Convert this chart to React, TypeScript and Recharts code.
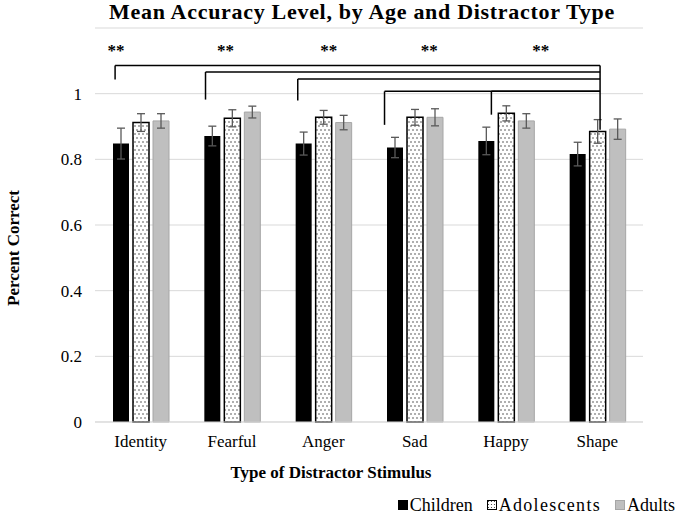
import React from 'react'
import {
  BarChart,
  Bar,
  XAxis,
  YAxis,
  CartesianGrid,
  ErrorBar,
  Legend,
  ReferenceLine,
  ReferenceDot,
} from 'recharts'

const categories = ['Identity', 'Fearful', 'Anger', 'Sad', 'Happy', 'Shape']
const children = [0.848, 0.871, 0.848, 0.836, 0.856, 0.816]
const childrenErr = [0.047, 0.03, 0.035, 0.031, 0.042, 0.036]
const adolescents = [0.912, 0.925, 0.928, 0.928, 0.94, 0.885]
const adolescentsErr = [0.027, 0.026, 0.021, 0.024, 0.023, 0.036]
const adults = [0.917, 0.944, 0.912, 0.928, 0.917, 0.892]
const adultsErr = [0.022, 0.018, 0.022, 0.026, 0.022, 0.031]
const yTicks = [0, 0.2, 0.4, 0.6, 0.8, 1]

// significance brackets (each emotion vs Shape), in category units (0..6)
const bracketStart = [0.22, 1.21, 2.22, 3.17, 4.34]
const bracketTop = [1.086, 1.066, 1.045, 1.007, 1.007]
const bracketLeg = [1.043, 0.982, 0.979, 0.905, 0.936]
const bracketEnd = 5.53
const bracketEndLeg = 0.89
const starX = [0.23, 1.43, 2.56, 3.66, 4.88]
const starY = 1.132

const data = categories.map((name, i) => ({
  name,
  Children: children[i],
  childrenErr: childrenErr[i],
  Adolescents: adolescents[i],
  adolescentsErr: adolescentsErr[i],
  Adults: adults[i],
  adultsErr: adultsErr[i],
}))

// the hidden x axis spans index 0..n-1 over the plot width, so rescale
// category units (0..n) onto it
const toAxis = (p: number) => (p * (categories.length - 1)) / categories.length

const FONT = '"Liberation Serif", "Times New Roman", serif'
const ERR = '#595959'

const LegendBox = () => {
  const items = [
    { name: 'Children', fill: '#000', stroke: '#000', spacing: 0 },
    { name: 'Adolescents', fill: 'url(#dotsLegend)', stroke: '#000', spacing: 1.3 },
    { name: 'Adults', fill: '#bfbfbf', stroke: '#a6a6a6', spacing: 0 },
  ]
  return (
    <div style={{ height: 24, display: 'flex', justifyContent: 'flex-end', alignItems: 'center', gap: 14, paddingRight: 11, fontSize: 18, fontFamily: FONT, color: '#000' }}>
      {items.map(it => (
        <span key={it.name} style={{ display: 'flex', alignItems: 'center', letterSpacing: it.spacing }}>
          <svg width={10} height={10} style={{ marginRight: 2 }}>
            <defs>
              <pattern id="dotsLegend" width={3} height={3} patternUnits="userSpaceOnUse">
                <circle cx={1.5} cy={1.5} r={0.6} fill="#333" />
              </pattern>
            </defs>
            <rect x={0.5} y={0.5} width={9} height={9} fill={it.fill} stroke={it.stroke} />
          </svg>
          {it.name}
        </span>
      ))}
    </div>
  )
}

export default function App() {
  return (
    <div style={{ position: 'relative', width: 686, height: 517, fontFamily: FONT, background: '#fff' }}>
      <style>{'body{margin:0}'}</style>
      <div style={{ position: 'absolute', left: 19, top: 1, width: 686, textAlign: 'center', fontSize: 22, lineHeight: '22px', letterSpacing: 0.7, fontWeight: 700, color: '#000' }}>
        Mean Accuracy Level, by Age and Distractor Type
      </div>
      <BarChart
        width={686}
        height={517}
        data={data}
        margin={{ top: 28, right: 43, left: 0, bottom: 0 }}
        barSize={16}
        barGap={4}
        style={{ fontFamily: FONT }}
      >
        <defs>
          <pattern id="dots" width={4} height={8} patternUnits="userSpaceOnUse">
            <rect width={4} height={8} fill="#fff" />
            <circle cx={1} cy={2} r={0.7} fill="#222" />
            <circle cx={3} cy={6} r={0.7} fill="#222" />
          </pattern>
        </defs>
        <CartesianGrid vertical={false} stroke="#d9d9d9" />
        <XAxis
          dataKey="name"
          height={71}
          tickLine={false}
          axisLine={{ stroke: '#d9d9d9' }}
          tickMargin={7}
          tick={{ fontSize: 17, fill: '#000', fontFamily: FONT }}
          label={{
            value: 'Type of Distractor Stimulus',
            position: 'insideTop',
            offset: 44,
            dx: -38,
            style: { fontSize: 17, fontWeight: 700, fill: '#000', fontFamily: FONT },
          }}
        />
        <XAxis xAxisId="num" type="number" domain={[0, 6]} allowDataOverflow hide />
        <YAxis
          width={95}
          domain={[0, 1.2]}
          ticks={yTicks}
          tickFormatter={(v: number) => String(v)}
          axisLine={false}
          tickLine={false}
          tickMargin={7}
          tick={{ fontSize: 17, fill: '#000', fontFamily: FONT }}
          label={{
            value: 'Percent Correct',
            content: () => (
              <text x={19} y={248} transform="rotate(-90 19 248)" textAnchor="middle" fontSize={17} fontWeight={700} fontFamily={FONT} fill="#000">
                Percent Correct
              </text>
            ),
          }}
        />
        <Legend verticalAlign="bottom" wrapperStyle={{ left: 0, width: 686 }} content={() => <LegendBox />} />
        <Bar dataKey="Children" fill="#000" isAnimationActive={false}>
          <ErrorBar dataKey="childrenErr" direction="y" width={4} stroke={ERR} strokeWidth={1.3} isAnimationActive={false} />
        </Bar>
        <Bar dataKey="Adolescents" fill="url(#dots)" stroke="#000" strokeWidth={1.5} isAnimationActive={false}>
          <ErrorBar dataKey="adolescentsErr" direction="y" width={4} stroke={ERR} strokeWidth={1.3} isAnimationActive={false} />
        </Bar>
        <Bar dataKey="Adults" fill="#bfbfbf" stroke="#a6a6a6" strokeWidth={1} isAnimationActive={false}>
          <ErrorBar dataKey="adultsErr" direction="y" width={4} stroke={ERR} strokeWidth={1.3} isAnimationActive={false} />
        </Bar>
        {bracketStart.map((x0, i) => (
          <ReferenceLine
            key={'h' + i}
            xAxisId="num"
            ifOverflow="visible"
            segment={[{ x: toAxis(x0), y: bracketTop[i] }, { x: toAxis(bracketEnd), y: bracketTop[i] }]}
            stroke="#000"
            strokeWidth={1.5}
          />
        ))}
        {bracketStart.map((x0, i) => (
          <ReferenceLine
            key={'l' + i}
            xAxisId="num"
            ifOverflow="visible"
            segment={[{ x: toAxis(x0), y: bracketTop[i] }, { x: toAxis(x0), y: bracketLeg[i] }]}
            stroke="#000"
            strokeWidth={1.5}
          />
        ))}
        <ReferenceLine
          xAxisId="num"
          ifOverflow="visible"
          segment={[{ x: toAxis(bracketEnd), y: bracketTop[0] }, { x: toAxis(bracketEnd), y: bracketEndLeg }]}
          stroke="#000"
          strokeWidth={1.5}
        />
        {starX.map((x, i) => (
          <ReferenceDot
            key={'s' + i}
            xAxisId="num"
            ifOverflow="visible"
            x={toAxis(x)}
            y={starY}
            r={1}
            fill="none"
            stroke="none"
            label={{ value: '**', position: 'center', fontSize: 17, fontWeight: 700, fill: '#000', fontFamily: FONT }}
          />
        ))}
      </BarChart>
    </div>
  )
}
